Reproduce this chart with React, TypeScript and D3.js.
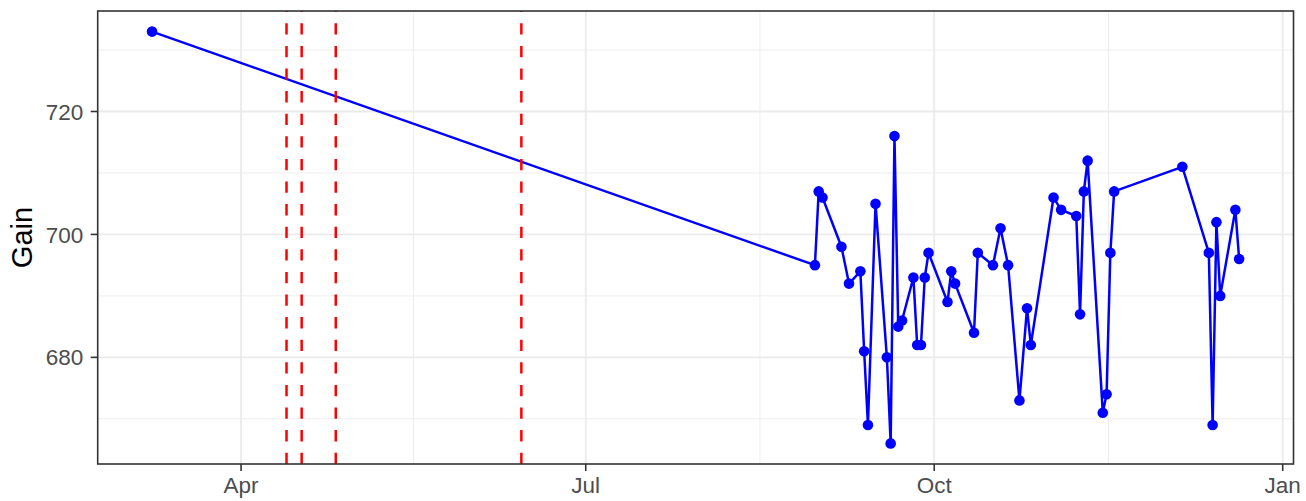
import React from "react";
import * as d3 from "d3";

const dates: string[] = [
  "2021-03-08T12:00", "2021-08-30T12:00", "2021-08-31T12:00", "2021-09-01T12:00",
  "2021-09-06T12:00", "2021-09-08T12:00", "2021-09-11T12:00", "2021-09-12T12:00",
  "2021-09-13T12:00", "2021-09-15T12:00", "2021-09-18T12:00", "2021-09-19T12:00",
  "2021-09-20T12:00", "2021-09-21T12:00", "2021-09-22T12:00", "2021-09-25T12:00",
  "2021-09-26T12:00", "2021-09-27T12:00", "2021-09-28T12:00", "2021-09-29T12:00",
  "2021-10-04T12:00", "2021-10-05T12:00", "2021-10-06T12:00", "2021-10-11T12:00",
  "2021-10-12T12:00", "2021-10-16T12:00", "2021-10-18T12:00", "2021-10-20T12:00",
  "2021-10-23T12:00", "2021-10-25T12:00", "2021-10-26T12:00", "2021-11-01T12:00",
  "2021-11-03T12:00", "2021-11-07T12:00", "2021-11-08T12:00", "2021-11-09T12:00",
  "2021-11-10T12:00", "2021-11-14T12:00", "2021-11-15T12:00", "2021-11-16T12:00",
  "2021-11-17T12:00", "2021-12-05T12:00", "2021-12-12T12:00", "2021-12-13T12:00",
  "2021-12-14T12:00", "2021-12-15T12:00", "2021-12-19T12:00", "2021-12-20T12:00",
];

const gain: number[] = [
  733, 695, 707, 706,
  698, 692, 694, 681,
  669, 705, 680, 666,
  716, 685, 686, 693,
  682, 682, 693, 697,
  689, 694, 692, 684,
  697, 695, 701, 695,
  673, 688, 682, 706,
  704, 703, 687, 707,
  712, 671, 674, 697,
  707, 711, 697, 669,
  702, 690, 704, 696,
];

const eventDates: string[] = ["2021-04-13", "2021-04-17", "2021-04-26", "2021-06-14"];

const xTickDates: string[] = ["2021-04-01", "2021-07-01", "2021-10-01", "2022-01-01"];
const xTickLabels: string[] = ["Apr", "Jul", "Oct", "Jan"];
const xMinorDates: string[] = ["2021-05-16T12:00", "2021-08-16", "2021-11-16"];
const yTicks: number[] = [680, 700, 720];
const yMinor: number[] = [670, 690, 710, 730];
const yTitle = "Gain";

const W = 1306;
const H = 501;
const panel = { left: 97.7, right: 1293.5, top: 11, bottom: 464 };
const FONT = "'Liberation Sans', Arial, Helvetica, sans-serif";

const parse = (s: string) => new Date(s);

export default function App() {
  const pts = dates.map((d, i) => ({ t: parse(d), v: gain[i] }));
  const tExt = d3.extent(pts, (p) => p.t.getTime()) as [number, number];
  const tR = tExt[1] - tExt[0];
  const x = d3
    .scaleTime()
    .domain([new Date(tExt[0] - 0.05 * tR), new Date(tExt[1] + 0.05 * tR)])
    .range([panel.left, panel.right]);
  const vExt = d3.extent(gain) as [number, number];
  const vR = vExt[1] - vExt[0];
  const y = d3
    .scaleLinear()
    .domain([vExt[0] - 0.05 * vR, vExt[1] + 0.05 * vR])
    .range([panel.bottom, panel.top]);

  const line = d3
    .line<{ t: Date; v: number }>()
    .x((p) => x(p.t))
    .y((p) => y(p.v));

  const grey92 = "#EBEBEB";
  const grey20 = "#333333";
  const grey30 = "#4D4D4D";

  return (
    <svg
      width={W}
      height={H}
      style={{ position: "absolute", left: 0, top: 0, background: "#fff" }}
      fontFamily={FONT}
    >
      <rect x={0} y={0} width={W} height={H} fill="#fff" />
      <defs>
        <clipPath id="panelClip">
          <rect x={panel.left} y={panel.top} width={panel.right - panel.left} height={panel.bottom - panel.top} />
        </clipPath>
      </defs>
      <g clipPath="url(#panelClip)">
        {yMinor.map((v) => (
          <line key={"ym" + v} x1={panel.left} x2={panel.right} y1={y(v)} y2={y(v)} stroke={grey92} strokeWidth={0.9} />
        ))}
        {xMinorDates.map((d) => (
          <line key={"xm" + d} x1={x(parse(d))} x2={x(parse(d))} y1={panel.top} y2={panel.bottom} stroke={grey92} strokeWidth={0.9} />
        ))}
        {yTicks.map((v) => (
          <line key={"yM" + v} x1={panel.left} x2={panel.right} y1={y(v)} y2={y(v)} stroke={grey92} strokeWidth={1.8} />
        ))}
        {xTickDates.map((d) => (
          <line key={"xM" + d} x1={x(parse(d))} x2={x(parse(d))} y1={panel.top} y2={panel.bottom} stroke={grey92} strokeWidth={1.8} />
        ))}
        <path d={line(pts) || ""} fill="none" stroke="#0000FF" strokeWidth={2.5} strokeLinejoin="round" />
        {pts.map((p, i) => (
          <circle key={"p" + i} cx={x(p.t)} cy={y(p.v)} r={5.3} fill="#0000FF" />
        ))}
        {eventDates.map((d) => (
          <line
            key={"ev" + d}
            x1={x(parse(d + "T00:00"))}
            x2={x(parse(d + "T00:00"))}
            y1={panel.bottom}
            y2={panel.top}
            stroke="#FF0000"
            strokeWidth={2.5}
            strokeDasharray="11.3 11.3"
          />
        ))}
      </g>
      <rect
        x={panel.left}
        y={panel.top}
        width={panel.right - panel.left}
        height={panel.bottom - panel.top}
        fill="none"
        stroke={grey20}
        strokeWidth={1.6}
      />
      {yTicks.map((v) => (
        <g key={"yt" + v}>
          <line x1={panel.left - 7} x2={panel.left} y1={y(v)} y2={y(v)} stroke={grey20} strokeWidth={1.6} />
          <text x={panel.left - 14.5} y={y(v)} dy="0.36em" textAnchor="end" fontSize={22.5} fill={grey30}>
            {v}
          </text>
        </g>
      ))}
      {xTickDates.map((d, i) => (
        <g key={"xt" + d}>
          <line x1={x(parse(d + "T00:00"))} x2={x(parse(d + "T00:00"))} y1={panel.bottom} y2={panel.bottom + 7} stroke={grey20} strokeWidth={1.6} />
          <text x={x(parse(d + "T00:00"))} y={panel.bottom + 13} dy="0.72em" textAnchor="middle" fontSize={22.5} fill={grey30}>
            {xTickLabels[i]}
          </text>
        </g>
      ))}
      <text
        transform={`translate(31.5, ${(panel.top + panel.bottom) / 2}) rotate(-90)`}
        textAnchor="middle"
        fontSize={29}
        fill="#000"
      >
        {yTitle}
      </text>
    </svg>
  );
}
